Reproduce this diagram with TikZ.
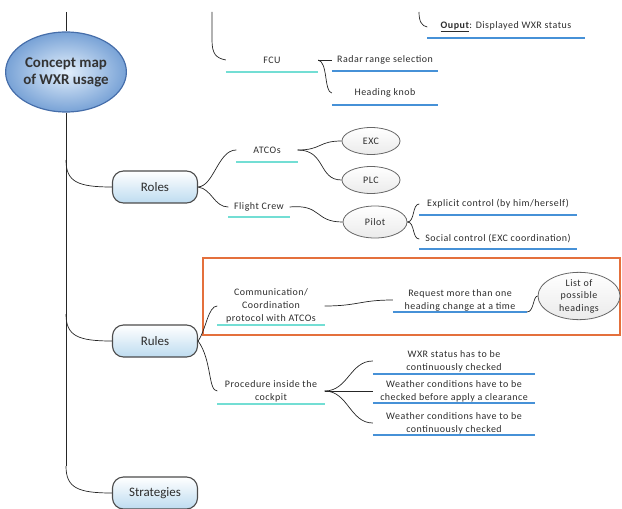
\documentclass[tikz,border=0pt]{standalone}
\usepackage{fontspec}
\setmainfont{Carlito}
\newfontfamily\smallfam[LetterSpace=5]{Carlito}
\usetikzlibrary{shapes.geometric}
\definecolor{ulblue}{RGB}{70,145,215}
\definecolor{ulcyan}{RGB}{115,222,212}
\definecolor{orangeb}{RGB}{228,112,60}
\definecolor{boxfill}{RGB}{190,220,240}
\definecolor{ellout}{RGB}{120,162,214}
\definecolor{ellin}{RGB}{228,240,252}
\definecolor{ellbd}{RGB}{70,110,170}
\definecolor{txtc}{RGB}{45,45,45}
\begin{document}
\begin{tikzpicture}[x=1bp,y=-1bp,
 conn/.style={draw=black!85, line width=0.7pt},
 ublue/.style={draw=ulblue, line width=2pt},
 ucyan/.style={draw=ulcyan, line width=2pt},
 txt/.style={font=\smallfam\fontsize{10}{13}\selectfont, text=txtc, align=center, inner sep=0pt},
 catbox/.style={draw=black!70, line width=1.1pt, rounded corners=11bp, minimum width=85bp, minimum height=32bp, top color=white, bottom color=boxfill, font=\fontsize{13}{15}\selectfont, text=txtc},
 leaf/.style={ellipse, draw=black!60, line width=0.8pt, top color=white, bottom color=black!8, minimum width=58bp, minimum height=27bp, inner sep=0pt, font=\smallfam\fontsize{10}{12}\selectfont, text=txtc, align=center},
]
\useasboundingbox (0,0) rectangle (622,509);

% main ellipse and spine
\node[ellipse, draw=ellbd, line width=1.2pt, inner color=ellin, outer color=ellout, minimum width=112bp, minimum height=80bp, inner sep=0pt, font=\bfseries\fontsize{15}{17}\selectfont, text=black!80, align=center] (main) at (66,72) {Concept map\\of WXR usage};
\coordinate (top) at (66,12);
\coordinate (sp1) at (66,160);
\coordinate (sp2) at (66,314);
\coordinate (sp3) at (66,466);
\draw[conn] (top) -- (main.north);
\draw[conn] (main.south) -- (sp3);

\node[catbox] (roles) at (155,187) {Roles};
\node[catbox] (rules) at (155,341) {Rules};
\node[catbox] (strat) at (155,493) {Strategies};
\draw[conn] (sp1) .. controls (66,182) and (78,187) .. (roles.west);
\draw[conn] (sp2) .. controls (66,336) and (78,341) .. (rules.west);
\draw[conn] (sp3) .. controls (66,488) and (78,493) .. (strat.west);

% top part
\coordinate (t1) at (212,12);
\coordinate (t2) at (419,12);
\node[txt, minimum width=92bp] (fcu) at (272,60) {FCU};
\node[txt, minimum width=106bp] (radar) at (385,60) {Radar range selection};
\node[txt, minimum width=106bp] (head) at (385,93) {Heading knob};
\node[txt, minimum width=157bp] (out) at (506,27) {\underline{\textbf{Ouput}}: Displayed WXR status};
\draw[ucyan] ([yshift=-12bp]fcu.west) -- ([yshift=-12bp]fcu.east);
\draw[ublue] ([yshift=-11bp]radar.west) -- ([yshift=-11bp]radar.east);
\draw[ublue] ([yshift=-12bp]head.west) -- ([yshift=-12bp]head.east);
\draw[ublue] ([yshift=-11bp]out.west) -- ([yshift=-11bp]out.east);
\draw[conn] (t1) -- (212,40) .. controls (212,54) and (216,58) .. (fcu.west);
\draw[conn] (t2) .. controls (419,22) and (422,26) .. (out.west);
\draw[conn] (fcu.east) -- (radar.west);
\draw[conn] (fcu.east) .. controls (328,62) and (324,92) .. (head.west);

% roles
\node[txt, minimum width=61bp] (atcos) at (267,150) {ATCOs};
\node[txt, minimum width=61bp] (crew) at (259,207) {Flight Crew};
\draw[ucyan] ([yshift=-12bp]atcos.west) -- ([yshift=-12bp]atcos.east);
\draw[ucyan] ([yshift=-10bp]crew.west) -- ([yshift=-10bp]crew.east);
\node[leaf] (exc) at (371,141) {EXC};
\node[leaf] (plc) at (371,180) {PLC};
\node[leaf, minimum width=64bp, minimum height=32bp] (pilot) at (375,222) {Pilot};
\node[txt, minimum width=157bp] (expl) at (498,204) {Explicit control (by him/herself)};
\node[txt, minimum width=157bp] (soc) at (498,239) {Social control (EXC coordination)};
\draw[ublue] ([yshift=-11bp]expl.west) -- ([yshift=-11bp]expl.east);
\draw[ublue] ([yshift=-10bp]soc.west) -- ([yshift=-10bp]soc.east);
\draw[conn] (roles.east) .. controls (214,186) and (218,150) .. (atcos.west);
\draw[conn] (roles.east) .. controls (212,189) and (214,207) .. (crew.west);
\draw[conn] (atcos.east) .. controls (322,150) and (318,141) .. (exc.west);
\draw[conn] (atcos.east) .. controls (326,150) and (318,180) .. (plc.west);
\draw[conn] (crew.east) .. controls (322,204) and (314,222) .. (pilot.west);
\draw[conn] (pilot.east) .. controls (415,222) and (412,204) .. (expl.west);
\draw[conn] (pilot.east) .. controls (415,222) and (412,239) .. (soc.west);

% rules
\draw[orangeb, line width=2.2pt] (203,258) rectangle (620,335);
\node[txt, minimum width=107bp] (comm) at (271,306) {Communication/\\Coordination\\protocol with ATCOs};
\node[txt, minimum width=134bp] (req) at (460,300) {Request more than one\\heading change at a time};
\node[leaf, minimum width=82bp, minimum height=46bp, font=\smallfam\fontsize{10}{12.5}\selectfont] (list) at (579,296) {List of\\possible\\headings};
\draw[ucyan] ([yshift=-19bp]comm.west) -- ([yshift=-19bp]comm.east);
\draw[ublue] ([yshift=-12bp]req.west) -- ([yshift=-12bp]req.east);
\coordinate (reqR) at (527,312);
\draw[conn] (rules.east) .. controls (206,330) and (208,306) .. (comm.west);
\draw[conn] (comm.east) .. controls (358,306) and (360,300) .. (req.west);
\draw[conn] (reqR) .. controls (534,312) and (533,296) .. (list.west);

\node[txt, minimum width=107bp] (proc) at (271,391) {Procedure inside the\\cockpit};
\draw[ucyan] ([yshift=-13bp]proc.west) -- ([yshift=-13bp]proc.east);
\node[txt, minimum width=162bp] (wxr) at (454,361) {WXR status has to be\\continuously checked};
\node[txt, minimum width=162bp] (w1) at (454,391) {Weather conditions have to be\\checked before apply a clearance};
\node[txt, minimum width=162bp] (w2) at (454,423) {Weather conditions have to be\\continuously checked};
\draw[ublue] ([yshift=-13bp]wxr.west) -- ([yshift=-13bp]wxr.east);
\draw[ublue] ([yshift=-12bp]w1.west) -- ([yshift=-12bp]w1.east);
\draw[ublue] ([yshift=-12bp]w2.west) -- ([yshift=-12bp]w2.east);
\draw[conn] (rules.east) .. controls (212,360) and (208,391) .. (proc.west);
\draw[conn] (proc.east) .. controls (348,391) and (350,361) .. (wxr.west);
\draw[conn] (proc.east) -- (w1.west);
\draw[conn] (proc.east) .. controls (348,391) and (350,423) .. (w2.west);
\end{tikzpicture}
\end{document}
